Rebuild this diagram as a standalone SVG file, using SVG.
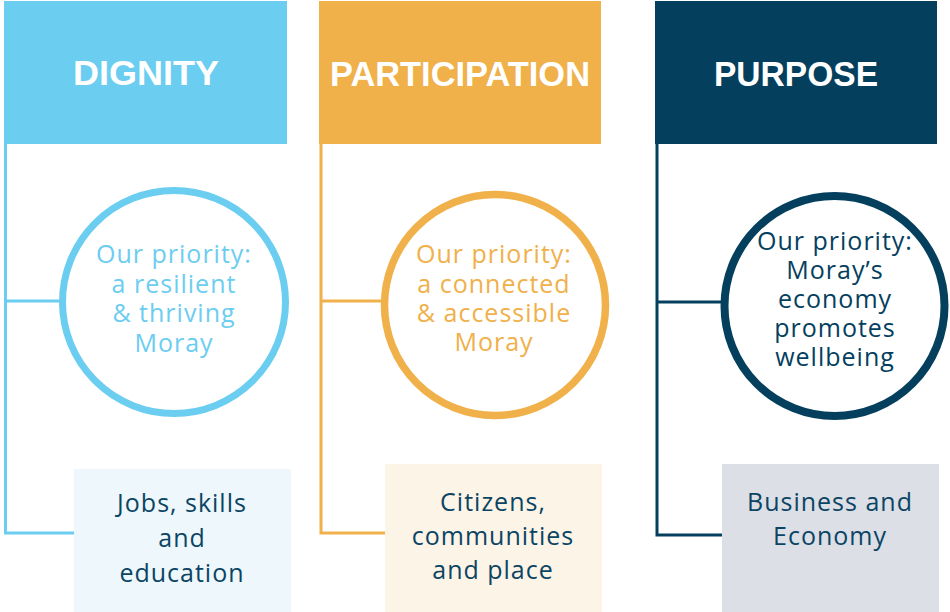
<svg xmlns="http://www.w3.org/2000/svg" width="950" height="612" viewBox="0 0 950 612">
<style>
.hdr{font-family:"Liberation Sans",Arial,sans-serif;font-weight:bold;font-size:35px;fill:#fff;text-anchor:middle}
.ct{font-family:"Open Sans","Liberation Sans",sans-serif;font-size:25px;text-anchor:middle;letter-spacing:1px}
.bt{font-family:"Open Sans","Liberation Sans",sans-serif;font-size:25px;text-anchor:middle;fill:#0B4563;letter-spacing:1px}
.ln{fill:none;stroke-width:3}
.blue{stroke:#6BCDF0}.orange{stroke:#F0B04A}.dark{stroke:#04405E}
</style>
<rect width="950" height="612" fill="#fff"/>
<g id="connectors">
<path class="ln blue" d="M5.5 144 V533 H74 M5.5 301 H60"/>
<path class="ln orange" d="M321 144 V533 H385 M321 301 H381"/>
<path class="ln dark" d="M657 144 V535 H722 M657 302 H721"/>
</g>
<g id="dignity-header">
<rect x="4" y="1" width="283" height="143" fill="#6BCDF0"/>
<text class="hdr" x="146" y="85" textLength="146" lengthAdjust="spacingAndGlyphs">DIGNITY</text>
</g>
<g id="participation-header">
<rect x="319" y="1" width="282" height="143" fill="#F0B04A"/>
<text class="hdr" x="460" y="86" textLength="260" lengthAdjust="spacingAndGlyphs">PARTICIPATION</text>
</g>
<g id="purpose-header">
<rect x="655" y="1" width="282" height="143" fill="#04405E"/>
<text class="hdr" x="796" y="86" textLength="164" lengthAdjust="spacingAndGlyphs">PURPOSE</text>
</g>
<g id="dignity-priority">
<circle cx="174" cy="302" r="111.5" fill="#fff" stroke="#6BCDF0" stroke-width="7"/>
<text class="ct" fill="#6BCDF0"><tspan x="174" y="263">Our priority:</tspan><tspan x="174" y="293">a resilient</tspan><tspan x="174" y="322">&amp; thriving</tspan><tspan x="174" y="352">Moray</tspan></text>
</g>
<g id="participation-priority">
<circle cx="495" cy="305" r="110.5" fill="#fff" stroke="#F0B04A" stroke-width="7.5"/>
<text class="ct" fill="#F0B04A"><tspan x="494" y="263">Our priority:</tspan><tspan x="494" y="293">a connected</tspan><tspan x="494" y="322">&amp; accessible</tspan><tspan x="494" y="351">Moray</tspan></text>
</g>
<g id="purpose-priority">
<circle cx="834.5" cy="306" r="110" fill="#fff" stroke="#04405E" stroke-width="8"/>
<text class="ct" fill="#04405E"><tspan x="835" y="250">Our priority:</tspan><tspan x="835" y="279">Moray’s</tspan><tspan x="835" y="308">economy</tspan><tspan x="835" y="337">promotes</tspan><tspan x="835" y="366">wellbeing</tspan></text>
</g>
<g id="jobs-box">
<rect x="74" y="469" width="217" height="143" fill="#EEF7FB"/>
<text class="bt"><tspan x="182" y="512">Jobs, skills</tspan><tspan x="182" y="547">and</tspan><tspan x="182" y="582">education</tspan></text>
</g>
<g id="citizens-box">
<rect x="385" y="464" width="217" height="148" fill="#FDF4E8"/>
<text class="bt"><tspan x="493" y="511">Citizens,</tspan><tspan x="493" y="545">communities</tspan><tspan x="493" y="579">and place</tspan></text>
</g>
<g id="business-box">
<rect x="722" y="464" width="217" height="148" fill="#DCDFE6"/>
<text class="bt"><tspan x="830" y="511">Business and</tspan><tspan x="830" y="545">Economy</tspan></text>
</g>
</svg>
